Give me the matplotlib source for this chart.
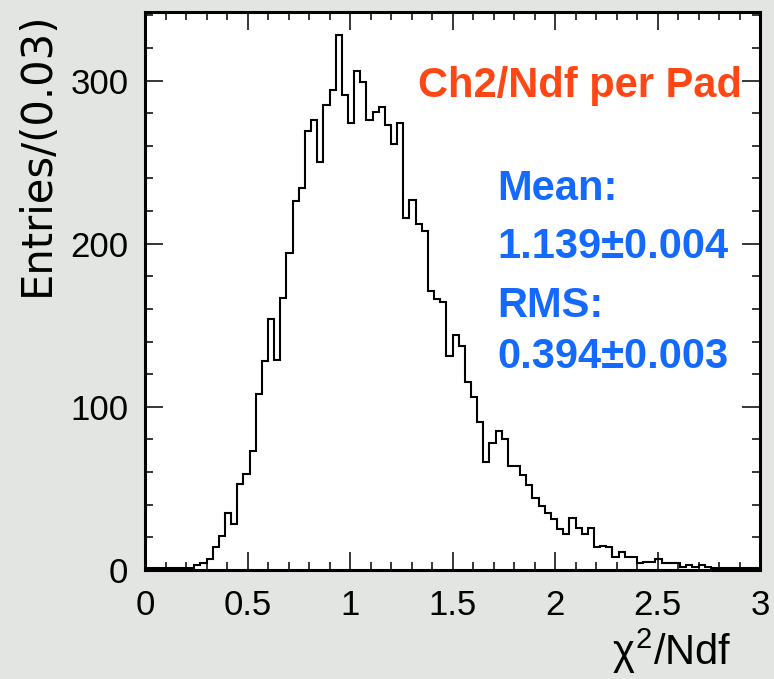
import numpy as np
import matplotlib
matplotlib.use("Agg")
import matplotlib.pyplot as plt
from matplotlib.ticker import MultipleLocator

plt.rcParams["mathtext.fontset"] = "custom"
plt.rcParams["mathtext.rm"] = "Liberation Sans"
plt.rcParams["mathtext.it"] = "Liberation Sans"
plt.rcParams["mathtext.bf"] = "Liberation Sans:bold"

# ---- data ----
bin_width = 0.03
n_bins = 100
counts = [
    1, 1, 1, 1, 1, 1, 1, 1, 3, 4,
    7, 14, 21, 35, 28, 53, 59, 73, 108, 128,
    154, 129, 167, 194, 226, 234, 269, 276, 250, 285,
    294, 328, 291, 274, 306, 299, 276, 281, 284, 273,
    261, 274, 216, 227, 212, 208, 171, 166, 164, 131,
    144, 137, 115, 106, 91, 66, 78, 85, 80, 64,
    64, 58, 52, 44, 39, 35, 31, 25, 22, 32,
    26, 22, 26, 14, 15, 14, 8, 11, 8, 8,
    4, 5, 5, 7, 4, 4, 4, 2, 3, 2,
    3, 2, 1, 1, 1, 1, 1, 1, 1, 1,
]
edges = np.round(np.arange(n_bins + 1) * bin_width, 4)

title_text = "Ch2/Ndf per Pad"
stat_lines = ["Mean:", "1.139\u00b10.004", "RMS:", "0.394\u00b10.003"]
x_label = r"$\chi^{2}$/Ndf"
y_label = "Entries/(0.03)"
x_tick_labels = ["0", "0.5", "1", "1.5", "2", "2.5", "3"]
x_tick_values = [0, 0.5, 1, 1.5, 2, 2.5, 3]

# ---- figure ----
W, H = 774, 679
fig = plt.figure(figsize=(W / 100, H / 100), dpi=100)
fig.patch.set_facecolor("#e3e5e3")

ax = fig.add_axes([145 / W, 1 - 570 / H, (760 - 145) / W, (570 - 12) / H])
ax.set_facecolor("white")

ax.stairs(counts, edges, baseline=0, color="black", linewidth=1.5)

ax.set_xlim(0, 3)
ax.set_ylim(0, 342)

tick_font = "Liberation Sans"

ax.xaxis.set_minor_locator(MultipleLocator(0.1))
ax.yaxis.set_major_locator(MultipleLocator(100))
ax.yaxis.set_minor_locator(MultipleLocator(20))
ax.set_xticks(x_tick_values)
ax.set_xticklabels(x_tick_labels)

ax.tick_params(which="both", direction="in", top=True, right=True,
               colors="black", width=1.1)
ax.tick_params(which="major", length=13)
ax.tick_params(which="minor", length=6)
ax.tick_params(axis="x", which="major", pad=14)
ax.tick_params(axis="y", which="major", pad=12)
for lab in ax.get_xticklabels() + ax.get_yticklabels():
    lab.set_family(tick_font)
    lab.set_fontsize(25)

for sp in ax.spines.values():
    sp.set_linewidth(2.2)
    sp.set_color("black")

# axis labels (ROOT style: at the end of axes)
fig.text(731 / W, 1 - 665 / H, x_label, ha="right", va="baseline",
         fontsize=30, family=tick_font)
fig.text(37 / W, 1 - 12 / H, y_label, ha="center", va="top",
         rotation=90, fontsize=30, family="DejaVu Sans")

# annotations
fig.text(742 / W, 1 - 97 / H, title_text, ha="right", va="baseline",
         fontsize=30, fontweight="bold", color="#ff4715",
         family="Liberation Sans")
baselines = [200, 258, 317, 368]
for s, b in zip(stat_lines, baselines):
    fig.text(497 / W, 1 - b / H, s, ha="left", va="baseline",
             fontsize=30, fontweight="bold", color="#1469ff",
             family="Liberation Sans")

fig.savefig("out.png", dpi=100, facecolor=fig.get_facecolor())
